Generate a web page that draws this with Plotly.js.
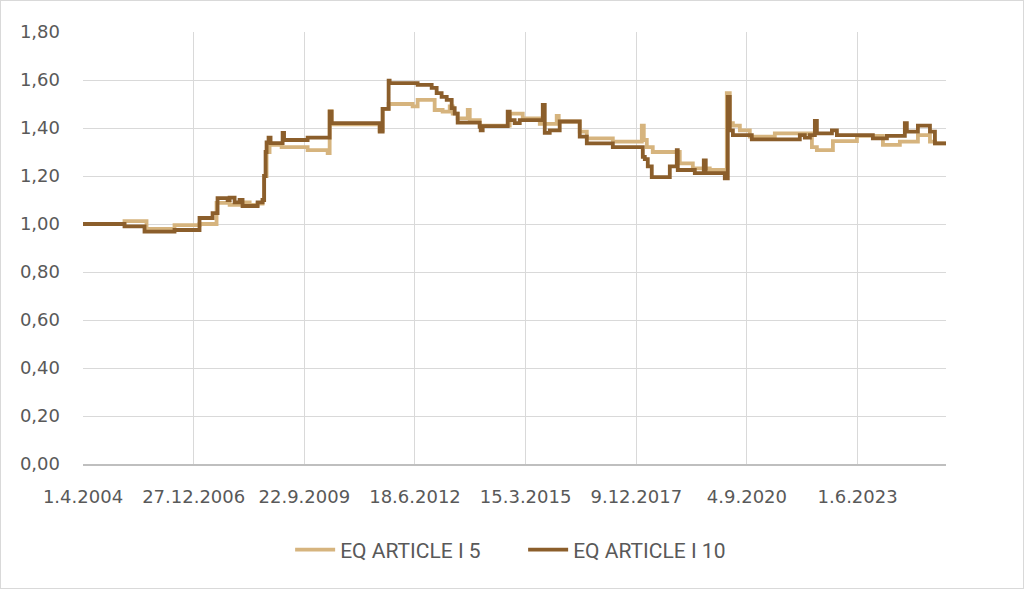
<!DOCTYPE html>
<html>
<head>
<meta charset="utf-8">
<script src="https://cdn.plot.ly/plotly-3.0.1.min.js"></script>
<style>
html,body{margin:0;padding:0;background:#fff;}
#wrap{position:relative;width:1024px;height:589px;}
#chart{width:1024px;height:589px;}
#frame{position:absolute;left:0;top:0;width:1024px;height:589px;box-sizing:border-box;border:1px solid #d9d9d9;pointer-events:none;}
</style>
</head>
<body>
<div id="wrap"><div id="chart"></div><div id="frame"></div></div>
<script>
// Series names
const seriesNames = ["EQ ARTICLE I 5", "EQ ARTICLE I 10"];

// EQ ARTICLE I 5 (step breakpoints)
const datesA5 = ["2004-04-01","2005-04-11","2005-10-27","2006-07-07","2007-02-18","2007-07-22","2007-11-17","2008-02-15","2008-05-16","2008-07-27","2008-09-10","2008-09-24","2008-10-16","2008-11-12","2009-03-01","2009-10-22","2010-04-21","2010-05-09","2010-05-27","2011-08-04","2011-08-31","2011-10-24","2012-05-28","2012-07-12","2012-12-13","2013-02-23","2013-04-28","2013-05-25","2013-07-09","2013-10-08","2013-10-26","2014-01-24","2014-10-22","2015-02-17","2015-07-21","2015-12-21","2016-01-08","2016-07-16","2016-09-18","2017-05-11","2018-01-28","2018-02-15","2018-03-14","2018-05-07","2019-01-06","2019-05-04","2019-10-04","2020-03-06","2020-04-02","2020-04-30","2020-07-02","2020-09-30","2021-05-14","2022-04-14","2022-05-29","2022-10-21","2023-05-26","2024-01-16","2024-06-17","2024-11-27","2025-03-16","2025-04-30","2025-08-08"];
const valuesA5 = [1.00,1.012,0.98,0.995,1.00,1.088,1.08,1.09,1.08,1.085,1.10,1.20,1.30,1.33,1.32,1.308,1.295,1.47,1.415,1.39,1.48,1.50,1.49,1.517,1.475,1.468,1.49,1.46,1.44,1.475,1.433,1.41,1.46,1.44,1.417,1.45,1.427,1.385,1.357,1.343,1.41,1.35,1.32,1.30,1.253,1.232,1.225,1.545,1.42,1.41,1.39,1.364,1.378,1.32,1.308,1.345,1.367,1.33,1.343,1.37,1.343,1.336,1.336];

// EQ ARTICLE I 10 (step breakpoints)
const datesA10 = ["2004-04-01","2005-04-11","2005-10-09","2006-07-07","2007-02-18","2007-06-16","2007-07-31","2007-10-30","2007-11-17","2008-01-01","2008-02-15","2008-03-13","2008-07-27","2008-09-10","2008-09-24","2008-10-07","2008-10-16","2008-11-03","2008-11-21","2009-03-10","2009-03-23","2009-10-22","2010-05-09","2010-05-27","2011-08-04","2011-08-31","2011-10-24","2011-11-02","2012-07-12","2012-11-16","2012-12-31","2013-02-14","2013-04-01","2013-05-16","2013-06-12","2013-07-09","2014-01-24","2014-02-02","2014-02-20","2014-10-04","2014-10-22","2014-12-06","2015-01-21","2015-08-17","2015-09-04","2015-10-19","2016-01-17","2016-07-16","2016-09-18","2017-05-11","2018-02-06","2018-02-24","2018-03-23","2018-04-28","2018-10-08","2018-12-10","2018-12-19","2019-05-22","2019-08-11","2019-08-29","2020-02-17","2020-03-15","2020-04-02","2020-04-30","2020-10-18","2021-12-26","2022-02-09","2022-03-27","2022-05-11","2022-05-29","2022-10-12","2022-11-26","2023-10-17","2024-02-21","2024-08-01","2024-08-19","2024-11-27","2025-03-16","2025-04-30","2025-08-08"];
const valuesA10 = [1.00,0.99,0.968,0.975,1.025,1.045,1.108,1.10,1.11,1.09,1.10,1.075,1.09,1.10,1.20,1.30,1.34,1.36,1.337,1.38,1.35,1.36,1.468,1.42,1.385,1.48,1.597,1.587,1.58,1.567,1.545,1.53,1.517,1.483,1.46,1.422,1.405,1.39,1.408,1.468,1.433,1.42,1.433,1.496,1.38,1.39,1.427,1.364,1.336,1.32,1.28,1.27,1.24,1.195,1.24,1.308,1.225,1.212,1.265,1.212,1.19,1.53,1.39,1.37,1.353,1.37,1.36,1.37,1.43,1.378,1.39,1.37,1.357,1.367,1.42,1.385,1.41,1.385,1.336,1.336];

// Axis ticks
const xTickVals = ["2004-04-01","2006-12-27","2009-09-22","2012-06-18","2015-03-15","2017-12-09","2020-09-04","2023-06-01"];
const xTickText = ["1.4.2004","27.12.2006","22.9.2009","18.6.2012","15.3.2015","9.12.2017","4.9.2020","1.6.2023"];
const yTickVals = [0,0.2,0.4,0.6,0.8,1.0,1.2,1.4,1.6,1.8];
const yTickText = ["0,00","0,20","0,40","0,60","0,80","1,00","1,20","1,40","1,60","1,80"];
const xRange = ["2004-04-01","2025-08-08"];

const colors = ["#D6B47E", "#8B5E2B"];

const traces = [
  {x: datesA5, y: valuesA5, name: seriesNames[0], type: "scatter", mode: "lines",
   line: {color: colors[0], width: 3.8, shape: "hv"}},
  {x: datesA10, y: valuesA10, name: seriesNames[1], type: "scatter", mode: "lines",
   line: {color: colors[1], width: 3.8, shape: "hv"}}
];

const tickFont = {family: "DejaVu Sans, Verdana, sans-serif", size: 18, color: "#595959"};

const layout = {
  width: 1024, height: 589,
  margin: {l: 83, r: 78, t: 32, b: 125},
  paper_bgcolor: "#ffffff", plot_bgcolor: "#ffffff",
  showlegend: true,
  legend: {orientation: "h", x: 0.51, xanchor: "center", y: -0.199, yanchor: "middle",
    font: {family: "Roboto, Liberation Sans, sans-serif", size: 21, color: "#595959"},
    itemwidth: 40, tracegroupgap: 0, entrywidth: 178, entrywidthmode: "pixels"},
  xaxis: {type: "date", range: xRange, tickmode: "array", tickvals: xTickVals, ticktext: xTickText,
    showgrid: true, gridcolor: "#d9d9d9", gridwidth: 1,
    showline: true, linecolor: "#bfbfbf", linewidth: 1.5,
    ticks: "", tickfont: tickFont, ticklabelstandoff: 16, zeroline: false, fixedrange: true},
  yaxis: {range: [0, 1.8], tickmode: "array", tickvals: yTickVals, ticktext: yTickText,
    showgrid: true, gridcolor: "#d9d9d9", gridwidth: 1,
    showline: false, ticks: "", tickfont: tickFont, ticklabelstandoff: 22, zeroline: false, fixedrange: true}
};

Plotly.newPlot("chart", traces, layout, {displayModeBar: false, staticPlot: true});
</script>
</body>
</html>
